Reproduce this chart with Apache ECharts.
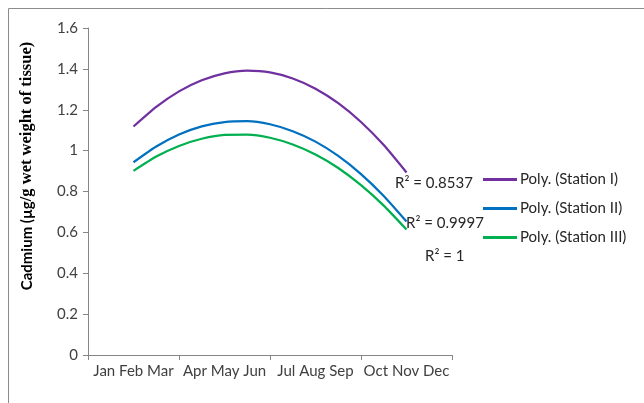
<!DOCTYPE html>
<html>
<head>
<meta charset="utf-8">
<script src="https://cdn.jsdelivr.net/npm/echarts@6/dist/echarts.min.js"></script>
<style>html,body{margin:0;padding:0;background:#fff}#c{width:644px;height:403px}</style>
</head>
<body>
<div id="c"></div>
<script>
const categories = ['Jan Feb Mar', 'Apr May Jun', 'Jul Aug Sep', 'Oct Nov Dec'];
const samplePos = [1, 1.25, 1.5, 1.75, 2, 2.25, 2.5, 2.75, 3, 3.25, 3.5, 3.75, 4];
const stationI   = [1.118, 1.214, 1.290, 1.344, 1.378, 1.391, 1.383, 1.353, 1.303, 1.232, 1.140, 1.027, 0.893];
const stationII  = [0.943, 1.020, 1.079, 1.119, 1.140, 1.144, 1.129, 1.095, 1.044, 0.974, 0.885, 0.778, 0.653];
const stationIII = [0.901, 0.971, 1.023, 1.058, 1.077, 1.078, 1.063, 1.030, 0.981, 0.915, 0.831, 0.731, 0.614];
const seriesNames = ['Poly. (Station I)', 'Poly. (Station II)', 'Poly. (Station III)'];
const r2Labels = ['R² = 0.8537', 'R² = 0.9997', 'R² = 1'];
const yTicks = {min: 0, max: 1.6, interval: 0.2};

const colors = ['#7030A0', '#0070C0', '#00B050'];
const font = 'Lato, "Open Sans", sans-serif';
const fs = 15;
const pairs = arr => arr.map((v, i) => [samplePos[i], v]);

const chart = echarts.init(document.getElementById('c'), null, {renderer: 'canvas'});
chart.setOption({
  animation: false,
  color: colors,
  grid: {left: 88, right: 192, top: 28, bottom: 48, containLabel: false},
  xAxis: [{
    type: 'category', data: categories, boundaryGap: true,
    axisLine: {lineStyle: {color: '#868686', width: 1}},
    axisTick: {show: true, length: 5, lineStyle: {color: '#868686'}},
    axisLabel: {color: '#404040', fontFamily: font, fontSize: fs, margin: 9, interval: 0}
  }, {
    type: 'value', min: 0.5, max: 4.5, show: false
  }],
  yAxis: {
    type: 'value', min: yTicks.min, max: yTicks.max, interval: yTicks.interval,
    splitLine: {show: false},
    axisLine: {show: true, lineStyle: {color: '#868686', width: 1}},
    axisTick: {show: true, length: 5, lineStyle: {color: '#868686'}},
    axisLabel: {color: '#404040', fontFamily: font, fontSize: fs, margin: 10}
  },
  legend: {
    orient: 'vertical', left: 483, top: 171, padding: 0,
    itemWidth: 34, itemHeight: 3, itemGap: 12, icon: 'rect',
    textStyle: {color: '#262626', fontFamily: font, fontSize: fs, lineHeight: 17, padding: [0, 0, 0, -2]},
    data: seriesNames
  },
  series: [stationI, stationII, stationIII].map((d, i) => ({
    name: seriesNames[i], type: 'line', xAxisIndex: 1,
    data: pairs(d), smooth: 0.2, showSymbol: false, symbol: 'none',
    lineStyle: {width: 2.25, color: colors[i]}
  })),
  graphic: [
    {type: 'rect', shape: {x: 8.5, y: 8.5, width: 800, height: 600}, style: {fill: 'none', stroke: '#8c8c8c', lineWidth: 1}, silent: true},
    {type: 'text', x: 27, y: 166, rotation: Math.PI / 2,
      style: {
        text: '{a|Cadmium (µg}{b|/g wet weight of tissue)}',
        align: 'center', verticalAlign: 'middle',
        rich: {
          a: {fontFamily: font, fontWeight: 'bold', fontSize: 15, fill: '#000'},
          b: {fontFamily: '"Liberation Serif", "DejaVu Serif", serif', fontWeight: 'bold', fontSize: 16.5, fill: '#000'}
        }
      }},
    {type: 'text', x: 395, y: 183, style: {text: r2Labels[0], fontFamily: font, fontSize: fs, fill: '#262626', verticalAlign: 'middle'}},
    {type: 'text', x: 406, y: 223, style: {text: r2Labels[1], fontFamily: font, fontSize: fs, fill: '#262626', verticalAlign: 'middle'}},
    {type: 'text', x: 425, y: 256, style: {text: r2Labels[2], fontFamily: font, fontSize: fs, fill: '#262626', verticalAlign: 'middle'}}
  ]
});
</script>
</body>
</html>
